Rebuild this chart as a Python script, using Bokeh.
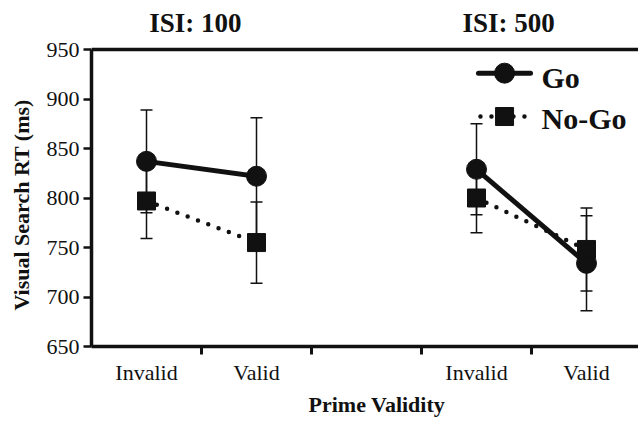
from bokeh.plotting import figure
from bokeh.models import FixedTicker, Title, Range1d
from bokeh.core.properties import value
from bokeh.embed import file_html
from bokeh.resources import INLINE

# ---- data ----
panel_titles = ["ISI: 100", "ISI: 500"]
categories = ["Invalid", "Valid", "Invalid", "Valid"]
slots = [0, 1, 3, 4]
go_mean = [837, 822, 829, 734]
go_err = [52, 59, 46, 48]
nogo_mean = [797, 755, 800, 748]
nogo_err = [38, 41, 35, 42]
y_ticks = [650, 700, 750, 800, 850, 900, 950]
series_names = ["Go", "No-Go"]

FONT = value("Liberation Serif")
INK = "#111111"

p = figure(width=638, height=423, output_backend="svg", toolbar_location=None,
           x_range=Range1d(-0.5, 4.4727), y_range=Range1d(650, 999.5),
           min_border_left=91, min_border_right=0, min_border_top=0, min_border_bottom=77)
p.outline_line_color = None
p.grid.visible = False
p.background_fill_color = "white"

# axes
p.yaxis.ticker = FixedTicker(ticks=y_ticks)
p.yaxis.bounds = (650, 950)
p.yaxis.axis_line_width = 3.5
p.yaxis.axis_line_color = INK
p.yaxis.major_tick_out = 8
p.yaxis.major_tick_in = 0
p.yaxis.major_tick_line_width = 2.5
p.yaxis.major_tick_line_color = INK
p.yaxis.minor_tick_line_color = None
p.yaxis.major_label_text_font = "Liberation Serif"
p.yaxis.major_label_text_font_size = "22px"
p.yaxis.major_label_text_color = INK
p.yaxis.major_label_standoff = 4

p.add_layout(Title(text="Visual Search RT (ms)", text_font="Liberation Serif", text_font_style="bold",
                   text_font_size="22px", text_color=INK, align="left", offset=36,
                   standoff=15, vertical_align="top"), "left")

p.xaxis.ticker = FixedTicker(ticks=slots, minor_ticks=[0.5, 1.5, 2.5, 3.5])
p.xaxis.major_label_overrides = {s: c for s, c in zip(slots, categories)}
p.xaxis.axis_line_width = 3.5
p.xaxis.axis_line_color = INK
p.xaxis.major_tick_out = 0
p.xaxis.major_tick_in = 0
p.xaxis.major_tick_line_color = None
p.xaxis.minor_tick_out = 8
p.xaxis.minor_tick_in = 0
p.xaxis.minor_tick_line_width = 3
p.xaxis.minor_tick_line_color = INK
p.xaxis.major_label_text_font = "Liberation Serif"
p.xaxis.major_label_text_font_size = "22px"
p.xaxis.major_label_text_color = INK
p.xaxis.major_label_standoff = 5

p.add_layout(Title(text="Prime Validity", text_font="Liberation Serif", text_font_style="bold",
                   text_font_size="22px", text_color=INK, align="left", offset=217,
                   standoff=5), "below")

# top frame line
p.segment(x0=[-0.5], y0=[950], x1=[4.6], y1=[950], line_width=3.5, line_color=INK)

# panel titles
p.text(x=[0.445, 3.291], y=[976.3, 976.3], text=panel_titles, text_font=FONT,
       text_font_style="bold", text_font_size="27px", text_align="center",
       text_baseline="alphabetic", text_color=INK)

# error bars
for mean, err in ((go_mean, go_err), (nogo_mean, nogo_err)):
    lo = [m - e for m, e in zip(mean, err)]
    hi = [m + e for m, e in zip(mean, err)]
    p.segment(x0=slots, y0=lo, x1=slots, y1=hi, line_width=1.5, line_color=INK)
    p.scatter(x=slots + slots, y=lo + hi, marker="dash", size=12, line_width=1.5, line_color=INK)

# lines (separately per panel)
for a, b in ((0, 2), (2, 4)):
    p.line(x=slots[a:b], y=nogo_mean[a:b], line_width=4.5, line_dash="0 11", line_cap="round",
           line_color=INK)
    p.line(x=slots[a:b], y=go_mean[a:b], line_width=5, line_color=INK)

p.scatter(x=slots, y=go_mean, marker="circle", size=20, fill_color=INK, line_color=INK)
p.scatter(x=slots, y=nogo_mean, marker="square", size=18, fill_color=INK, line_color=INK)

# legend (manual)
p.line(x=[3.018, 3.491], y=[926.1, 926.1], line_width=5, line_color=INK, line_cap="round")
p.scatter(x=[3.255], y=[926.1], marker="circle", size=20, fill_color=INK, line_color=INK)
p.line(x=[3.036, 3.50], y=[882.3, 882.3], line_width=4.5, line_dash="0 11", line_cap="round",
       line_color=INK)
p.scatter(x=[3.255], y=[882.3], marker="square", size=18, fill_color=INK, line_color=INK)
p.text(x=[3.591, 3.591], y=[922.2, 880.3], text=series_names, text_font=FONT,
       text_font_style="bold", text_font_size="30px", text_align="left",
       text_baseline="alphabetic", text_color=INK)

open("out.html", "w").write(file_html(p, INLINE))
